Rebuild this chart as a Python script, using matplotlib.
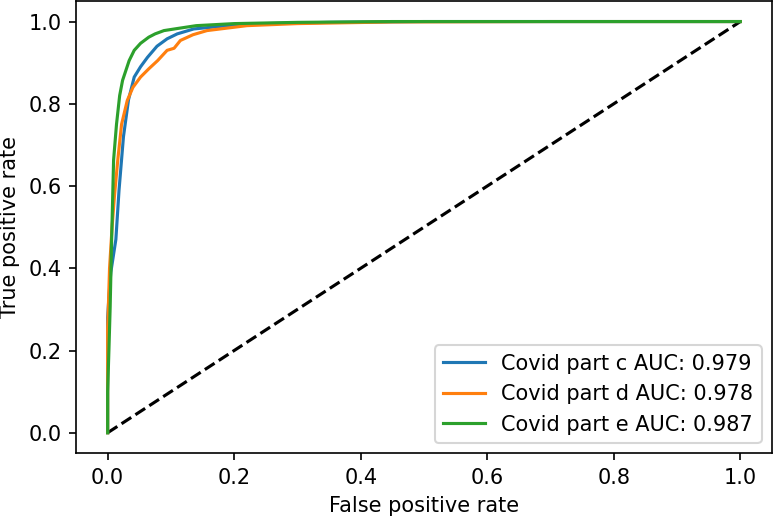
import matplotlib
matplotlib.use("Agg")
import matplotlib.pyplot as plt

labels = ["Covid part c AUC: 0.979", "Covid part d AUC: 0.978", "Covid part e AUC: 0.987"]

fpr_c = [0, 0, 0.002, 0.005, 0.009, 0.013, 0.018, 0.025, 0.033, 0.042, 0.052, 0.063, 0.078, 0.094, 0.11, 0.136, 0.19, 0.25, 0.35, 0.5, 0.7, 1.0]
tpr_c = [0, 0.28, 0.33, 0.39, 0.43, 0.47, 0.59, 0.72, 0.81, 0.865, 0.89, 0.913, 0.94, 0.958, 0.97, 0.982, 0.99, 0.995, 0.998, 1.0, 1.0, 1.0]

fpr_d = [0, 0, 0.003, 0.007, 0.011, 0.016, 0.022, 0.031, 0.04, 0.052, 0.065, 0.079, 0.094, 0.105, 0.115, 0.135, 0.157, 0.22, 0.3, 0.45, 0.7, 1.0]
tpr_d = [0, 0.25, 0.4, 0.5, 0.58, 0.663, 0.75, 0.808, 0.84, 0.865, 0.885, 0.905, 0.93, 0.935, 0.954, 0.968, 0.978, 0.99, 0.995, 0.999, 1.0, 1.0]

fpr_e = [0, 0, 0.002, 0.004, 0.006, 0.0094, 0.014, 0.019, 0.0236, 0.034, 0.042, 0.052, 0.065, 0.075, 0.089, 0.11, 0.14, 0.2, 0.3, 0.45, 0.7, 1.0]
tpr_e = [0, 0.1, 0.2, 0.306, 0.45, 0.663, 0.75, 0.82, 0.857, 0.905, 0.93, 0.947, 0.962, 0.97, 0.978, 0.983, 0.99, 0.995, 0.998, 1.0, 1.0, 1.0]

DPI = 150
fig = plt.figure(figsize=(774/DPI, 517/DPI), dpi=DPI)
ax = fig.add_axes([0.0982, 0.1232, 0.8992, 0.8749])
ax.plot([0, 1], [0, 1], "k--")
ax.plot(fpr_c, tpr_c, label=labels[0])
ax.plot(fpr_d, tpr_d, label=labels[1])
ax.plot(fpr_e, tpr_e, label=labels[2])
ax.set_xlabel("False positive rate")
ax.set_ylabel("True positive rate")
ax.legend(loc="lower right")
fig.savefig("out.png", dpi=DPI)
